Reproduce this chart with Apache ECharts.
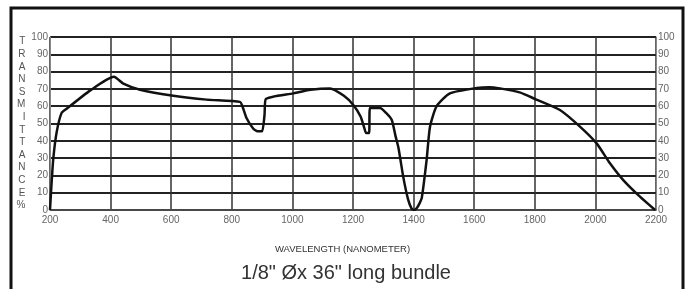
<!DOCTYPE html>
<html>
<head>
<meta charset="utf-8">
<script src="https://cdn.jsdelivr.net/npm/echarts@6/dist/echarts.min.js"></script>
<style>
  html, body { margin: 0; padding: 0; background: #fff; }
  #chart { width: 692px; height: 289px; }
</style>
</head>
<body>
<div id="chart"></div>
<script>
  // wavelength (nm) and transmittance (%)
  const wavelength = [200, 205, 211, 222, 238, 255, 332, 411, 442, 497, 607, 717, 827, 835, 849, 871, 885, 900, 908, 912,
    1003, 1060, 1124, 1170, 1201, 1225, 1238, 1243, 1253, 1256, 1289, 1310, 1328, 1340, 1350, 1366, 1382, 1393, 1401,
    1410, 1420, 1427, 1443, 1454, 1476, 1520, 1608, 1650, 1685, 1750, 1803, 1883, 1949, 2004, 2048, 2092, 2147, 2197];
  const transmittance = [0, 15, 30, 45, 56, 58.5, 69, 77, 73, 69.5, 66, 63.8, 62.5, 60, 53, 47, 45.5, 45.5, 55, 64,
    67.4, 69.5, 70.3, 66, 60.7, 54, 47, 44.5, 44.5, 59, 59, 56, 52, 43, 36, 19, 6, 1, 0,
    1, 4, 7, 29, 48, 60, 67.4, 70.5, 71, 70.3, 68, 64, 57.8, 48.2, 38.5, 27, 17.3, 7.7, 0];
  const xTicks = [200, 400, 600, 800, 1000, 1200, 1400, 1600, 1800, 2000, 2200];
  const yTicks = [0, 10, 20, 30, 40, 50, 60, 70, 80, 90, 100];
  const yName = 'TRANSMITTANCE%';
  const xName = 'WAVELENGTH (NANOMETER)';
  const caption = '1/8" Øx 36" long bundle';

  const chart = echarts.init(document.getElementById('chart'));
  const labelStyle = { color: '#666', fontSize: 10, fontFamily: 'Liberation Sans, Arial' };

  const yAxisBase = (pos) => ({
    type: 'value',
    position: pos,
    min: yTicks[0],
    max: yTicks[yTicks.length - 1],
    interval: 10,
    axisLine: { show: true, lineStyle: { color: '#888', width: 1 } },
    axisTick: { show: false },
    axisLabel: { ...labelStyle, margin: 2 },
    splitLine: { show: pos == 'left', lineStyle: { color: '#222', width: 2 } },
  });

  const option = {
    animation: false,
    grid: { left: 50, right: 36, top: 37, bottom: 79 },
    title: [
      { text: xName, left: 270, top: 239, textStyle: { color: '#333', fontSize: 9.5, fontWeight: 'normal', fontFamily: 'Liberation Sans, Arial' } },
      { text: caption, left: 'center', top: 258, textStyle: { color: '#333', fontSize: 20, fontWeight: 'normal', fontFamily: 'Liberation Sans, Arial' } },
    ],
    graphic: [
      { type: 'rect', shape: { x: 11, y: 8, width: 672, height: 300 }, style: { fill: 'none', stroke: '#111', lineWidth: 3 }, silent: true },
    ],
    xAxis: {
      type: 'value',
      min: xTicks[0],
      max: xTicks[xTicks.length - 1],
      interval: 200,
      axisLine: { show: true, onZero: false, lineStyle: { color: '#555', width: 1.5 } },
      axisTick: { show: false },
      axisLabel: { ...labelStyle, margin: 5, formatter: (v) => String(v) },
      splitLine: { show: true, lineStyle: { color: '#333', width: 1.5 } },
    },
    yAxis: [
      {
        ...yAxisBase('left'),
        name: yName.split('').join('\n'),
        nameLocation: 'middle',
        nameRotate: 0,
        nameGap: 23,
        nameTextStyle: { color: '#555', fontSize: 10, lineHeight: 12.6, fontFamily: 'Liberation Sans, Arial' },
      },
      yAxisBase('right'),
    ],
    series: [
      {
        type: 'line',
        data: wavelength.map((w, i) => [w, transmittance[i]]),
        showSymbol: false,
        smooth: 0.2,
        lineStyle: { color: '#111', width: 2.5 },
      },
    ],
  };
  chart.setOption(option);
</script>
</body>
</html>
